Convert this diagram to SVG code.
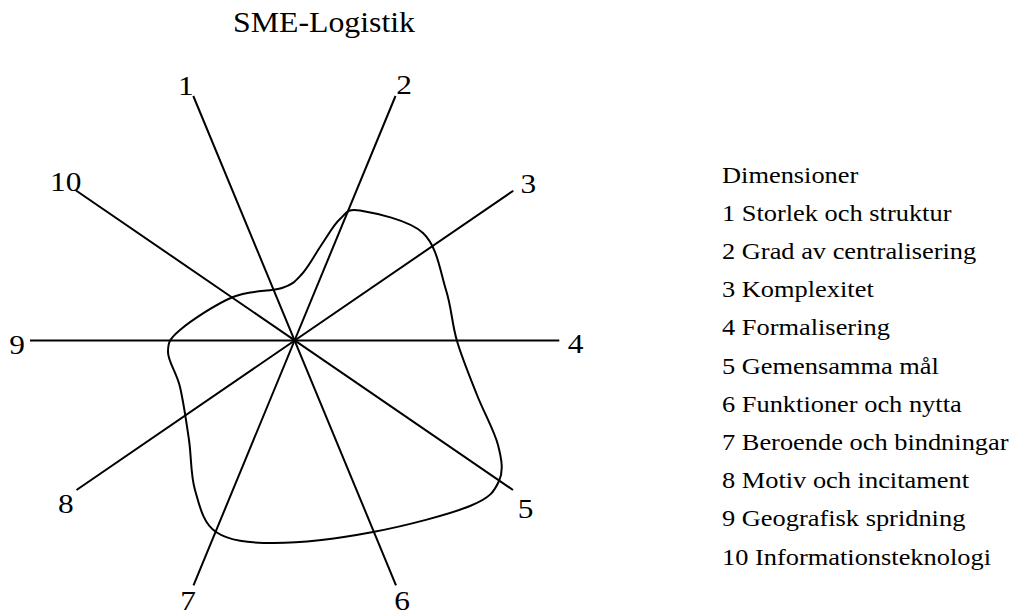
<svg xmlns="http://www.w3.org/2000/svg" width="1018" height="616" viewBox="0 0 1018 616">
  <style>
    .bg { fill: #ffffff; }
    .axis { stroke: #000000; stroke-width: 2; fill: none; stroke-linecap: butt; }
    .profile { stroke: #000000; stroke-width: 2; fill: none; }
    .num { font-family: "Liberation Serif", "Times New Roman", serif; font-size: 28px; fill: #000000; text-anchor: middle; }
    .title { font-family: "Liberation Serif", "Times New Roman", serif; font-size: 30px; fill: #000000; text-anchor: middle; }
    .legend { font-family: "Liberation Serif", "Times New Roman", serif; font-size: 24px; fill: #000000; }
  </style>

  <rect class="bg" x="0" y="0" width="1018" height="616"/>

  <!-- title -->
  <g id="title">
    <text class="title" transform="translate(324,32) scale(1.06,1)">SME-Logistik</text>
  </g>

  <!-- the ten axes, drawn as five diameters through the centre (294.5,340.5) -->
  <g id="axes">
    <line class="axis" x1="193.3" y1="96" x2="396" y2="585.3"/>
    <line class="axis" x1="395.5" y1="96" x2="193.5" y2="585.3"/>
    <line class="axis" x1="513.3" y1="190.7" x2="76.5" y2="490"/>
    <line class="axis" x1="76" y1="190.5" x2="513" y2="490"/>
    <line class="axis" x1="30" y1="340.5" x2="559.3" y2="340.5"/>
  </g>

  <!-- profile curve over the axes -->
  <g id="profile">
    <path class="profile" d="M 360,210.5
      C 373.8,212.8 408.7,219.8 423,233
      C 437.3,246.3 440.3,272 446,290
      C 451.7,308 451.8,323.5 457,341
      C 462.2,358.5 470.2,377.7 477,395
      C 483.8,412.3 494.3,430.7 498,445
      C 501.7,459.3 503.7,470.8 499,481
      C 494.3,491.2 491,497.5 470,506
      C 449,514.5 405.7,525.8 373,532
      C 340.3,538.2 300.2,543 274,543
      C 247.8,543 229.2,540.8 216,532
      C 202.8,523.2 199.5,505.3 195,490
      C 190.5,474.7 191.5,457.2 189,440
      C 186.5,422.8 183.5,401.7 180,387
      C 176.5,372.3 168,361.5 168,352
      C 168,342.5 169.2,339.2 180,330
      C 190.8,320.8 216,304 233,297
      C 250,290 270.5,291.8 282,288
      C 293.5,284.2 295.3,281.3 302,274
      C 308.7,266.7 315.7,253.2 322,244
      C 328.3,234.8 333.7,224.6 340,219
      C 346.3,213.4 346.2,208.2 360,210.5 Z"/>
  </g>

  <!-- axis numbers -->
  <g id="axis-labels">
    <g id="label-1"><text class="num" transform="translate(185.8,94.5) scale(1.12,1)">1</text></g>
    <g id="label-2"><text class="num" transform="translate(404.2,94) scale(1.12,1)">2</text></g>
    <g id="label-3"><text class="num" transform="translate(528.3,193.3) scale(1.12,1)">3</text></g>
    <g id="label-4"><text class="num" transform="translate(575.7,353.3) scale(1.12,1)">4</text></g>
    <g id="label-5"><text class="num" transform="translate(525.5,518.3) scale(1.12,1)">5</text></g>
    <g id="label-6"><text class="num" transform="translate(402.2,610) scale(1.12,1)">6</text></g>
    <g id="label-7"><text class="num" transform="translate(188,610) scale(1.12,1)">7</text></g>
    <g id="label-8"><text class="num" transform="translate(65.8,512.7) scale(1.12,1)">8</text></g>
    <g id="label-9"><text class="num" transform="translate(17.2,354) scale(1.12,1)">9</text></g>
    <g id="label-10"><text class="num" transform="translate(65.8,190.7) scale(1.12,1)">10</text></g>
  </g>

  <!-- legend -->
  <g id="legend" transform="translate(722,0) scale(1.1,1)">
    <text class="legend" x="0" y="182.7">Dimensioner</text>
    <text class="legend" x="0" y="220.9">1 Storlek och struktur</text>
    <text class="legend" x="0" y="259.1">2 Grad av centralisering</text>
    <text class="legend" x="0" y="297.3">3 Komplexitet</text>
    <text class="legend" x="0" y="335.5">4 Formalisering</text>
    <text class="legend" x="0" y="373.7">5 Gemensamma mål</text>
    <text class="legend" x="0" y="411.9">6 Funktioner och nytta</text>
    <text class="legend" x="0" y="450.1">7 Beroende och bindningar</text>
    <text class="legend" x="0" y="488.3">8 Motiv och incitament</text>
    <text class="legend" x="0" y="526.5">9 Geografisk spridning</text>
    <text class="legend" x="0" y="564.7">10 Informationsteknologi</text>
  </g>
</svg>
